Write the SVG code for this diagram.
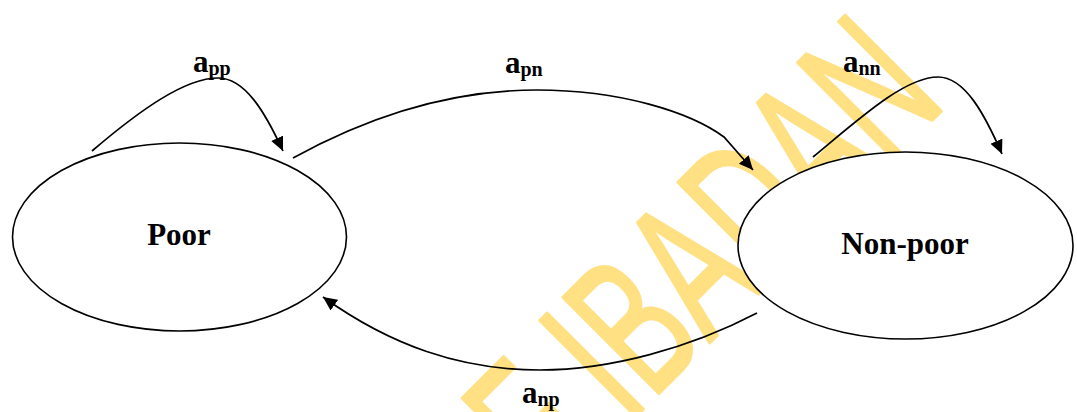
<svg xmlns="http://www.w3.org/2000/svg" width="1077" height="412" viewBox="0 0 1077 412">
<style>
.node ellipse{fill:#fff;stroke:#000;stroke-width:1.6}
.nlabel{font-family:"Liberation Serif","Times New Roman",serif;font-weight:bold;font-size:31px;text-anchor:middle;fill:#000}
.elabel{font-family:"Liberation Serif","Times New Roman",serif;font-weight:bold;font-size:31px;fill:#000}
.sub{font-size:20px}
.edge{fill:none;stroke:#000;stroke-width:1.7;marker-end:url(#arr)}
.wm{font-family:"Liberation Sans",Arial,sans-serif;font-size:122px;fill:#FFE082;stroke:#FFE082;stroke-width:2;stroke-linejoin:round}
</style>
<defs>
<marker id="arr" markerUnits="userSpaceOnUse" markerWidth="16" markerHeight="14" refX="14" refY="6.5" orient="auto"><path d="M0,0 L14,6.5 L0,13 z" fill="#000"/></marker>
</defs>
<rect width="1077" height="412" fill="#fff"/>
<g id="watermark"><text class="wm" transform="rotate(-45) scale(1,1.615)" x="-60" y="460.7">OF IBADAN</text></g>
<g id="poor" class="node"><ellipse cx="179.5" cy="237" rx="167" ry="94"/><text class="nlabel" x="179" y="245">Poor</text></g>
<g id="nonpoor" class="node"><ellipse cx="905.5" cy="245.5" rx="167.5" ry="93.5"/><text class="nlabel" x="905" y="254">Non-poor</text></g>
<g id="connectors">
<path class="edge" d="M92,151 C140,110 185,78 218,78 C245,78 265,112 283,151"/>
<path class="edge" d="M293,158 C380,110 460,90 537,90 C620,90 690,112 724,137 L753,170"/>
<path class="edge" d="M813,157 C860,118 905,77 938,77 C965,77 985,115 1002,154"/>
<path class="edge" d="M757,313 C690,348 610,370 540,370 C460,370 390,345 323,297"/>
</g>
<g id="labels">
<text class="elabel" x="193" y="72">a<tspan class="sub" dy="3">pp</tspan></text>
<text class="elabel" x="505" y="73">a<tspan class="sub" dy="3">pn</tspan></text>
<text class="elabel" x="843" y="72">a<tspan class="sub" dy="3">nn</tspan></text>
<text class="elabel" x="522" y="403">a<tspan class="sub" dy="3">np</tspan></text>
</g>
</svg>
